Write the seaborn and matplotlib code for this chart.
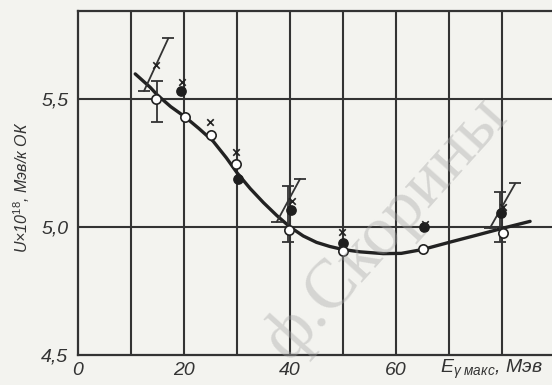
import numpy as np
import pandas as pd
import matplotlib
matplotlib.use('Agg')
import matplotlib.pyplot as plt
import seaborn as sns

# smooth curve
curve_x = [10.8, 13.6, 15.0, 17.5, 20.2, 22.8, 25.5, 28.0, 30.0, 32.5, 35.0, 37.5,
           40.0, 42.5, 45.0, 47.5, 50.0, 53.2, 57.6, 61.0, 65.0, 70.2, 75.2, 80.1, 85.3]
curve_y = [5.598, 5.546, 5.515, 5.470, 5.430, 5.385, 5.335, 5.270, 5.212, 5.150, 5.095, 5.045,
           5.000, 4.965, 4.940, 4.924, 4.912, 4.903, 4.896, 4.897, 4.912, 4.941, 4.968, 4.995, 5.022]

# open circles
open_x = [14.8, 20.1, 25.1, 29.9, 39.9, 50.0, 65.1, 80.1]
open_y = [5.500, 5.430, 5.360, 5.246, 4.990, 4.905, 4.914, 4.978]

# filled circles
full_x = [19.5, 30.1, 40.1, 50.0, 65.2, 79.9]
full_y = [5.533, 5.186, 5.066, 4.939, 5.000, 5.055]

# crosses
cross_x = [14.8, 19.7, 24.9, 29.9, 40.3, 49.9, 65.5, 80.2]
cross_y = [5.633, 5.568, 5.410, 5.294, 5.100, 4.980, 5.010, 5.080]

# vertical error bars
vbar_x = [14.9, 39.6, 79.6]
vbar_lo = [5.410, 4.943, 4.943]
vbar_hi = [5.569, 5.160, 5.138]

# slanted error bars (ends)
sbar_x0 = [12.45, 37.5, 77.7]
sbar_y0 = [5.531, 5.020, 4.995]
sbar_x1 = [17.04, 41.9, 82.5]
sbar_y1 = [5.737, 5.188, 5.170]

xticks = [0, 20, 40, 60]
xtick_labels = ['0', '20', '40', '60']
yticks = [4.5, 5.0, 5.5]
ytick_labels = ['4,5', '5,0', '5,5']

ink = '#333333'
paper = '#f3f3ef'

sns.set_style('white', {'axes.facecolor': paper, 'figure.facecolor': paper})
plt.rcParams['font.family'] = ['Liberation Sans', 'DejaVu Sans']
plt.rcParams['mathtext.fontset'] = 'custom'
plt.rcParams['mathtext.it'] = 'Liberation Sans:italic'
plt.rcParams['mathtext.rm'] = 'Liberation Sans'

fig = plt.figure(figsize=(5.52, 3.85), dpi=100)
ax = fig.add_axes([78 / 552, 1 - 355 / 385, 1 - 78 / 552, (355 - 11) / 385])

# grid
for gx in range(10, 100, 10):
    ax.axvline(gx, color=ink, lw=1.5, zorder=1)
for gy in [5.0, 5.5]:
    ax.axhline(gy, color=ink, lw=1.5, zorder=1)

curve = pd.DataFrame({'x': curve_x, 'y': curve_y})
sns.lineplot(data=curve, x='x', y='y', sort=False, estimator=None,
             color='#222222', lw=2.4, ax=ax, zorder=3)

# vertical error bars
ax.errorbar(vbar_x, [(a + b) / 2 for a, b in zip(vbar_lo, vbar_hi)],
            yerr=[(b - a) / 2 for a, b in zip(vbar_lo, vbar_hi)],
            fmt='none', ecolor=ink, elinewidth=1.3, capsize=4, capthick=1.3, zorder=4)

# slanted error bars
for x0, y0, x1, y1 in zip(sbar_x0, sbar_y0, sbar_x1, sbar_y1):
    ax.plot([x0, x1], [y0, y1], color=ink, lw=1.3, zorder=4)
    ax.plot([x0, x1], [y0, y1], ls='none', marker='_', ms=9, mew=1.3, color=ink, zorder=4)

sns.scatterplot(x=full_x, y=full_y, marker='o', s=45, color='#1e1e1e',
                edgecolor='#1e1e1e', linewidth=1, ax=ax, zorder=5)
sns.scatterplot(x=open_x, y=open_y, marker='o', s=45, color='white',
                edgecolor='#222222', linewidth=1.2, ax=ax, zorder=6)
sns.scatterplot(x=cross_x, y=cross_y, marker='x', s=22, color='#222222',
                linewidth=1.2, ax=ax, zorder=6)

ax.set_xlim(0, (552 - 78) / 5.3)
ax.set_ylim(4.5, 5.0 + (227 - 11) / 256)
ax.set_xticks(xticks)
ax.set_xticklabels(xtick_labels)
ax.set_yticks(yticks)
ax.set_yticklabels(ytick_labels)
ax.tick_params(length=0, labelsize=14, labelcolor=ink)
ax.tick_params(axis='x', pad=5)
ax.tick_params(axis='y', pad=7)
for lab in ax.get_xticklabels() + ax.get_yticklabels():
    lab.set_fontstyle('italic')
ax.set_xlabel('')
ax.set_ylabel('')

for side in ['left', 'top', 'bottom']:
    ax.spines[side].set_color(ink)
    ax.spines[side].set_linewidth(1.6)
ax.spines['right'].set_visible(False)

fig.text(440 / 552, 1 - 369 / 385, r'$E_{\gamma\ макс}$, Мэв', fontsize=14,
         style='italic', color=ink, ha='left', va='center')
fig.text(22 / 552, 1 - 187 / 385, 'U×10$^{18}$, Мэв/к ОК', fontsize=11.5,
         style='italic', color=ink, rotation=90, ha='center', va='center')

# library stamp across the scan
fig.text(288 / 552, 1 - 362 / 385, 'ф.Скорины', fontsize=50,
         family=['Liberation Serif', 'DejaVu Serif'], color='#a8a8a8', alpha=0.4,
         rotation=48, rotation_mode='anchor', ha='left', va='baseline', zorder=10)

fig.savefig('out.png', dpi=100, facecolor=paper)
